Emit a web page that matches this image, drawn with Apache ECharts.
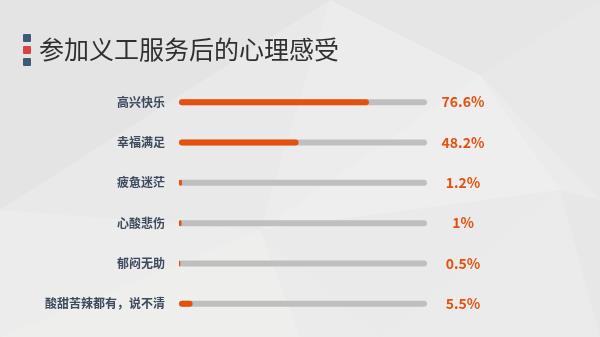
<!DOCTYPE html>
<html>
<head>
<meta charset="utf-8">
<script src="https://cdn.jsdelivr.net/npm/echarts@6/dist/echarts.min.js"></script>
<style>
  html, body { margin: 0; padding: 0; background: #ebebeb; }
  #main { width: 600px; height: 337px; }
</style>
</head>
<body>
<div id="main"></div>
<script>
    var categories = ['高兴快乐', '幸福满足', '疲惫迷茫', '心酸悲伤', '郁闷无助', '酸甜苦辣都有，说不清'];
    var values = [76.6, 48.2, 1.2, 1, 0.5, 5.5];
    var titleText = '参加义工服务后的心理感受';

    var FONT = '"Noto Sans CJK SC", "Noto Sans", sans-serif';
    var ORANGE = '#e5500f';
    var TRACK = '#bfbfbf';

    // 背景的浅灰三角块
    var polys = [
        { pts: [[0, 0], [330, 0], [0, 210]], c: '#e5e4e4' },
        { pts: [[330, 0], [600, 0], [480, 75]], c: '#e7e6e6' },
        { pts: [[0, 210], [330, 0], [260, 230]], c: '#e9e9e9' },
        { pts: [[330, 0], [480, 75], [260, 230]], c: '#ececec' },
        { pts: [[480, 75], [600, 0], [600, 200]], c: '#e8e8e8' },
        { pts: [[480, 75], [560, 190], [260, 230]], c: '#eeeeee' },
        { pts: [[480, 75], [600, 200], [560, 190]], c: '#ebebeb' },
        { pts: [[0, 210], [260, 230], [0, 337]], c: '#ececec' },
        { pts: [[260, 230], [300, 337], [0, 337]], c: '#eeeeed' },
        { pts: [[260, 230], [560, 190], [380, 337]], c: '#eaeaea' },
        { pts: [[560, 190], [600, 200], [600, 337]], c: '#e7e7e7' },
        { pts: [[560, 190], [600, 337], [380, 337]], c: '#ebebeb' }
    ];
    var graphics = polys.map(function(p){
        return { type: 'polygon', z: -10, silent: true, shape: { points: p.pts }, style: { fill: p.c } };
    });
    graphics.push(
        { type: 'rect', shape: { x: 23, y: 34, width: 8, height: 8, r: 1 }, style: { fill: '#3e5a78' } },
        { type: 'rect', shape: { x: 23, y: 46, width: 8, height: 8, r: 1 }, style: { fill: '#d84444' } },
        { type: 'rect', shape: { x: 23, y: 58, width: 8, height: 8, r: 1 }, style: { fill: '#3e5a78' } }
    );

    var myChart = echarts.init(document.getElementById('main'));
    var option = {
        backgroundColor: '#ebebeb',
        animation: false,
        graphic: graphics,
        title: {
            text: titleText,
            left: 34,
            top: 32,
            textStyle: { fontFamily: FONT, fontSize: 25, fontWeight: 'normal', color: '#2f2f2f' }
        },
        grid: { left: 179, right: 173, top: 82, bottom: 13 },
        xAxis: {
            type: 'value',
            min: 0,
            max: 100,
            show: false
        },
        yAxis: {
            type: 'category',
            inverse: true,
            data: categories,
            axisLine: { show: false },
            axisTick: { show: false },
            axisLabel: {
                margin: 14,
                fontFamily: FONT,
                fontSize: 12,
                fontWeight: 'bold',
                color: '#3b4a5c'
            }
        },
        series: [
            {
                type: 'bar',
                data: values,
                barWidth: 6,
                z: 3,
                showBackground: true,
                backgroundStyle: { color: TRACK, borderRadius: 3 },
                itemStyle: { color: ORANGE, borderRadius: 3 }
            },
            {
                type: 'bar',
                data: values.map(function(){ return 100; }),
                barWidth: 6,
                barGap: '-100%',
                z: 1,
                itemStyle: { color: 'rgba(0,0,0,0)' },
                label: {
                    show: true,
                    position: 'right',
                    distance: 36,
                    align: 'center',
                    fontFamily: FONT,
                    fontSize: 14,
                    fontWeight: 'bold',
                    color: ORANGE,
                    formatter: function(p){ return values[p.dataIndex] + '%'; }
                }
            }
        ]
    };
    myChart.setOption(option);
</script>
</body>
</html>
